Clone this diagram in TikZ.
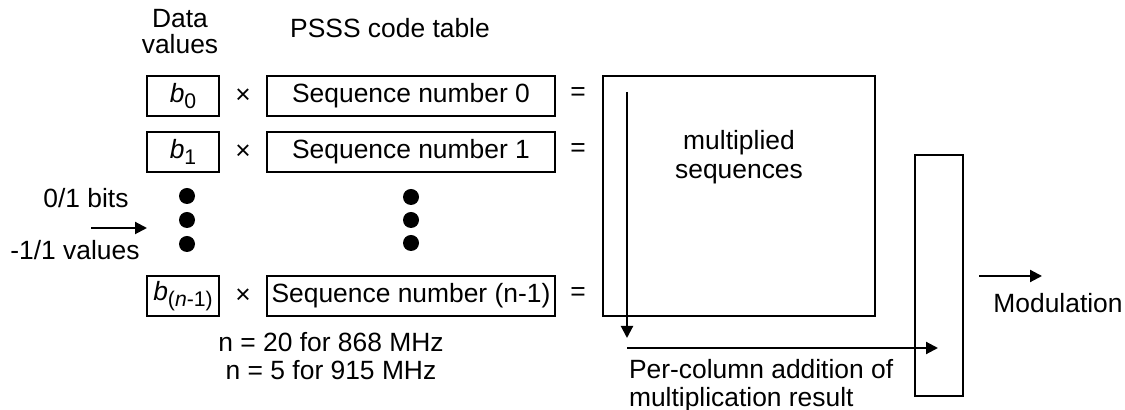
\documentclass[tikz,border=0pt]{standalone}
\usepackage{fontspec}
\setmainfont{Liberation Sans}
\usetikzlibrary{arrows.meta}
\newcommand{\bsub}[1]{\textit{b}\raisebox{-0.45ex}{\fontsize{10.6}{11}\selectfont #1}}
\begin{document}
\begin{tikzpicture}[x=0.5pt,y=-0.5pt,
  font=\fontsize{13.2}{14}\selectfont,
  line width=1.05pt,
  bbox/.style={draw, minimum width=36pt, minimum height=20pt, inner sep=0pt},
  sbox/.style={draw, minimum width=144pt, minimum height=20pt, inner sep=0pt},
  lbl/.style={inner sep=0pt},
  dot/.style={circle, fill, inner sep=0pt, minimum size=8pt},
  arr/.style={-{Triangle[length=6pt,width=6pt]}}]
\useasboundingbox (0,0) rectangle (1125,410);

% headings
\node[lbl, align=center, font=\fontsize{13.2}{13}\selectfont] (hdata) at (180,32) {Data\\values};
\node[lbl] (htable) at (390,28) {PSSS code table};

% rows
\node[bbox] (b0) at (183,96) {\bsub{0}};
\node[lbl] (x0) at (243,96) {×};
\node[sbox] (s0) at (411,96) {Sequence number 0};
\node[lbl] (e0) at (578,94) {=};

\node[bbox] (b1) at (183,152) {\bsub{1}};
\node[lbl] (x1) at (243,152) {×};
\node[sbox] (s1) at (411,152) {Sequence number 1};
\node[lbl] (e1) at (578,150) {=};

\node[bbox] (bn) at (183,296) {\bsub{(\textit{n}-1)}};
\node[lbl] (xn) at (243,296) {×};
\node[sbox] (sn) at (411,296) {Sequence number (n-1)};
\node[lbl] (en) at (578,294) {=};

% dots
\node[dot] (dl1) at (187,196) {};
\node[dot] (dl2) at (187,220) {};
\node[dot] (dl3) at (187,244) {};
\node[dot] (dr1) at (411,197) {};
\node[dot] (dr2) at (411,220) {};
\node[dot] (dr3) at (411,243) {};

% input
\node[lbl] (bits) at (86,198) {0/1 bits};
\node[lbl] (vals) at (75,250) {-1/1 values};
\coordinate (inA) at (91,228);
\coordinate (inB) at (147,228);
\draw[arr] (inA) -- (inB);

% n note
\node[lbl, align=center, font=\fontsize{13.2}{14}\selectfont] (nnote) at (331,356) {n = 20 for 868 MHz\\n = 5 for 915 MHz};

% multiplied sequences box
\node[draw, minimum width=136pt, minimum height=120pt, inner sep=0pt] (big) at (739,196) {};
\node[lbl, align=center, font=\fontsize{13.2}{14.5}\selectfont] (mtext) at (739,157) {multiplied\\sequences};

% sum box
\node[draw, minimum width=24pt, minimum height=120.5pt, inner sep=0pt] (sum) at (939,275.5) {};

% column arrow
\coordinate (cA) at (627,92);
\coordinate (cB) at (627,338);
\draw[arr] (cA) -- (cB);
\coordinate (hA) at (627,348);
\coordinate (hB) at (938,348);
\draw[arr] (hA) -- (hB);
\node[lbl, align=left, anchor=west, font=\fontsize{13.2}{14}\selectfont] (ptext) at (628,386) {Per-column addition of\\multiplication result};

% output
\coordinate (oA) at (979,276);
\coordinate (oB) at (1042,276);
\draw[arr] (oA) -- (oB);
\node[lbl] (mod) at (1058,303) {Modulation};
\end{tikzpicture}
\end{document}
